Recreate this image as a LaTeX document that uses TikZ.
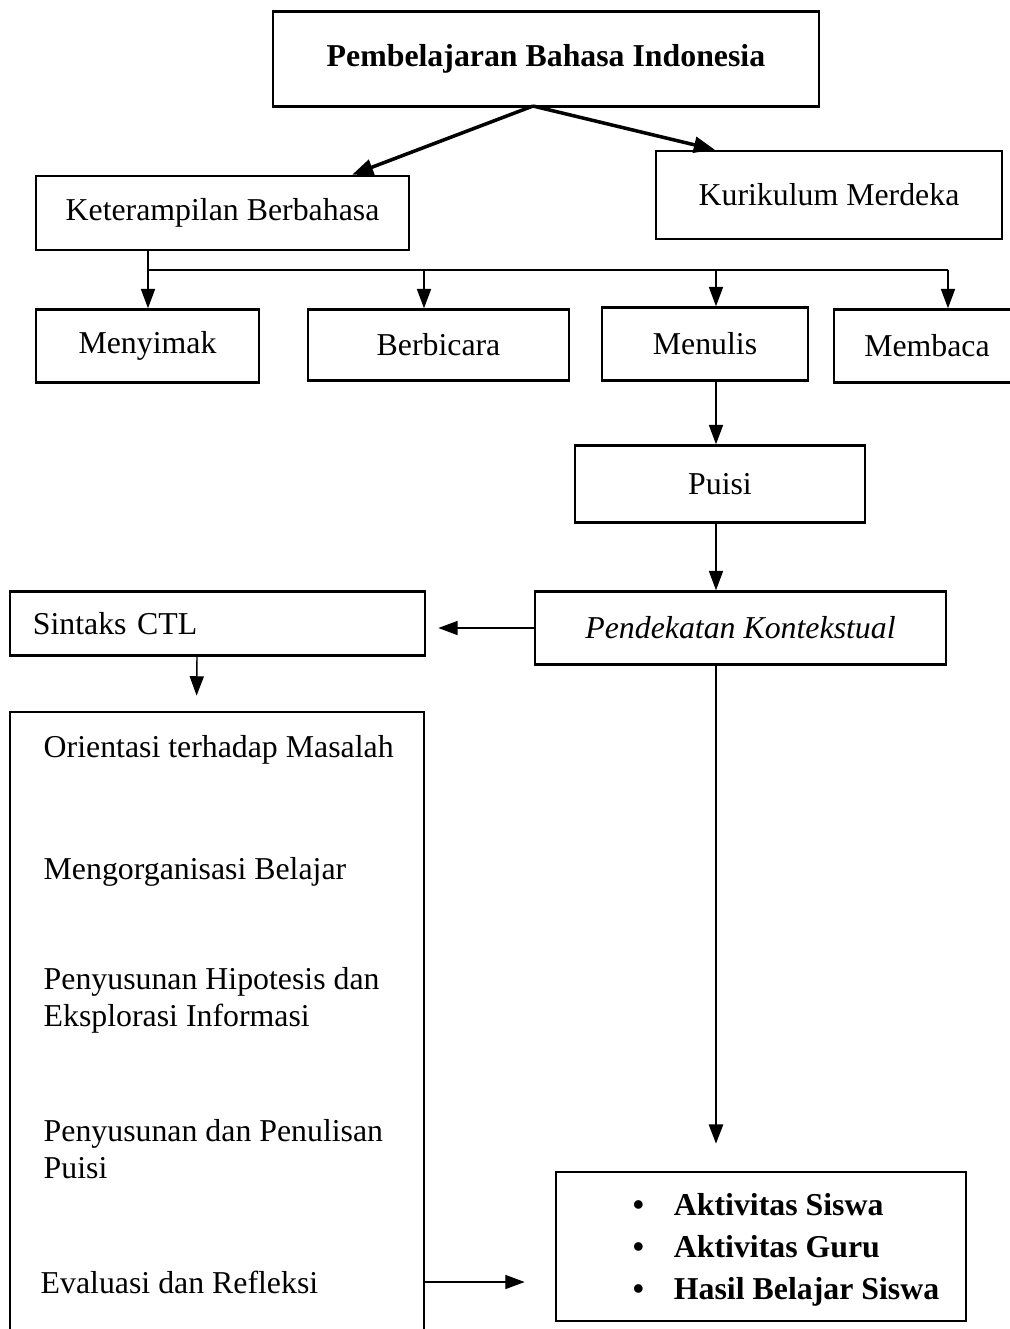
\documentclass[tikz,border=0pt]{standalone}
\usepackage{fontspec}
\setmainfont{Liberation Serif}
\usetikzlibrary{arrows.meta,calc}
\tikzset{
  kotak/.style={draw,line width=0.7pt,minimum width=#1,inner sep=0pt,font=\fontsize{9.05}{11}\selectfont},
  teks/.style={anchor=west,align=left,inner sep=0pt,font=\fontsize{9.05}{10.5}\selectfont},
  panah/.style={-{Triangle[width=4pt,length=5.5pt]},line width=0.4pt},
  panahtebal/.style={-{Triangle[width=4.5pt,length=6pt]},line width=1pt}
}
\begin{document}
\begin{tikzpicture}[x=0.01cm,y=-0.01cm]
	\useasboundingbox (0,0) rectangle (1010,1329);
%					Kotak atas :
	\node[kotak=5.46cm,minimum height=0.95cm] (judul) at (546,59) {\bfseries Pembelajaran Bahasa Indonesia};
	\node[kotak=3.73cm,minimum height=0.74cm] (ket) at (222.5,213) {Keterampilan Berbahasa};
	\node[kotak=3.46cm,minimum height=0.88cm] (kur) at (829,195) {Kurikulum Merdeka};
	\coordinate (pisah) at (533,106);
	\draw[panahtebal] (pisah) -- ([xshift=1.295cm]ket.north);
	\draw[panahtebal] (pisah) -- ([xshift=-1.14cm]kur.north);
%					Empat keterampilan :
	\node[kotak=2.23cm,minimum height=0.73cm] (menyimak) at (147.5,346) {Menyimak};
	\node[kotak=2.61cm,minimum height=0.71cm] (berbicara) at (438.5,345) {Berbicara};
	\node[kotak=2.06cm,minimum height=0.73cm] (menulis) at (705,344) {Menulis};
	\node[kotak=1.86cm,minimum height=0.73cm] (membaca) at (927,346) {Membaca};
	\coordinate (bus) at (148,270);
	\draw[line width=0.4pt] (ket.south -| bus) -- (bus) -- (948,270);
	\foreach \n/\dx in {menyimak/0.5,berbicara/-14.5,menulis/11,membaca/21}
		\draw[panah] ([xshift=\dx*0.01cm]\n.north |- bus) -- ([xshift=\dx*0.01cm]\n.north);
%					Puisi dan pendekatan :
	\node[kotak=2.90cm,minimum height=0.77cm] (puisi) at (720,484) {Puisi};
	\node[kotak=4.11cm,minimum height=0.73cm] (pendekatan) at (740.5,628) {\itshape Pendekatan Kontekstual};
	\coordinate (tengah) at (716,0);
	\draw[panah] (menulis.south -| tengah) -- (puisi.north -| tengah);
	\draw[panah] (puisi.south -| tengah) -- (pendekatan.north -| tengah);
%					Sintaks CTL :
	\node[kotak=4.15cm,minimum height=0.64cm,text width=3.69cm,align=left] (sintaks) at (217.5,623.5) {Sintaks CTL};
	\draw[panah,shorten >=0.12cm] (pendekatan.west) -- (pendekatan.west -| sintaks.east);
	\node[kotak=4.14cm,minimum height=6.30cm] (isi) at (217,1027) {};
	\draw[panah,shorten >=0.15cm] ([xshift=-0.205cm]sintaks.south) -- ([xshift=-0.205cm]isi.north);
	\node[teks] (orientasi) at (43,750) {Orientasi terhadap Masalah};
	\node[teks] (organisasi) at (43,872) {Mengorganisasi Belajar};
	\node[teks] (hipotesis) at (43,1000) {Penyusunan Hipotesis dan\\Eksplorasi Informasi};
	\node[teks] (penulisan) at (43,1149) {Penyusunan dan Penulisan\\Puisi};
	\node[teks] (evaluasi) at (40,1282) {Evaluasi dan Refleksi};
%					Hasil :
	\node[kotak=4.10cm,minimum height=1.49cm] (hasil) at (761,1246.5) {};
	\node[teks,anchor=center,font=\fontsize{9.05}{11.9}\selectfont\bfseries] (hasilteks) at (786,1250)
		{\makebox[11.7pt][l]{\textbullet}Aktivitas Siswa\\\makebox[11.7pt][l]{\textbullet}Aktivitas Guru\\\makebox[11.7pt][l]{\textbullet}Hasil Belajar Siswa};
	\draw[panah,line width=0.7pt,shorten >=0.27cm] (pendekatan.south -| tengah) -- (hasil.north -| tengah);
	\draw[panah,shorten >=0.3cm] (isi.east |- evaluasi) -- (hasil.west |- evaluasi);
\end{tikzpicture}
\end{document}
